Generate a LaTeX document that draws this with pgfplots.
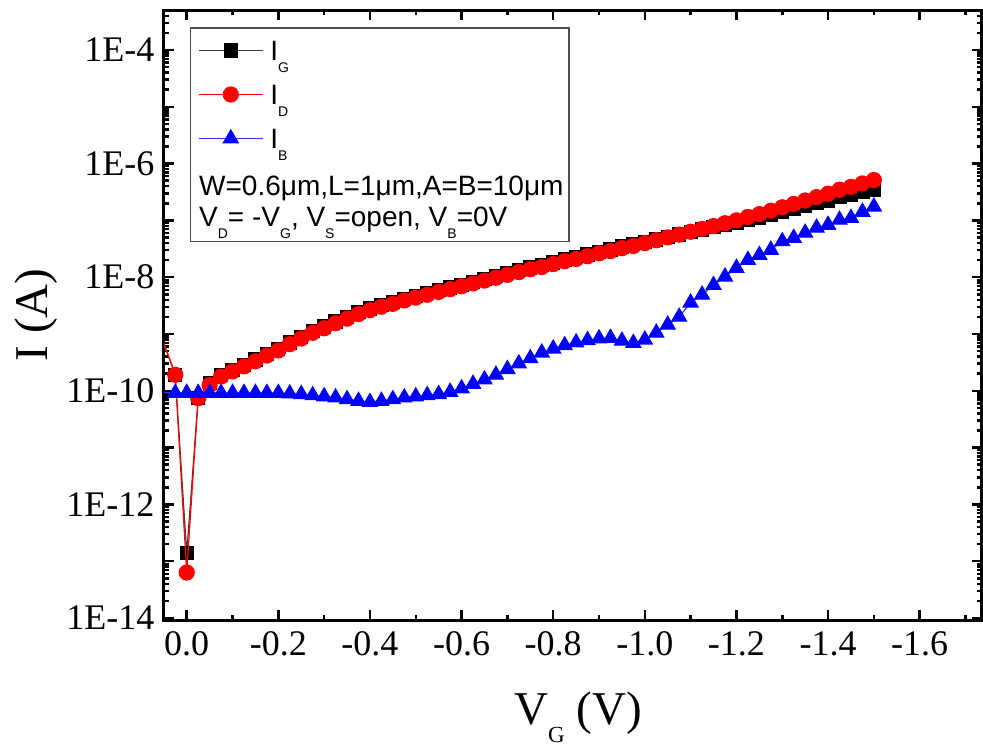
\documentclass[border=0pt]{standalone}
\usepackage{fontspec}
\setmainfont{Liberation Serif}
\newfontfamily\arial{Liberation Sans}
\usepackage{pgfplots}
\pgfplotsset{compat=1.18}
\newcommand{\lsub}[1]{\raisebox{-0.43em}{\fontsize{14}{14}\selectfont #1}}
\begin{document}
\begin{tikzpicture}
\begin{axis}[
  scale only axis, width=818pt, height=610pt,
  x dir=reverse, xmin=-1.736, xmax=0.0496,
  ymode=log, ymin=9.2e-15, ymax=5.06e-4,
  axis line style={line width=3pt},
  tick align=inside,
  major tick length=10pt, minor tick length=5pt,
  every tick/.style={line width=2.5pt, black},
  /pgf/number format/assume math mode=true,
  tick label style={font=\fontsize{36}{40}\selectfont},
  xticklabel style={yshift=-8pt},
  yticklabel style={xshift=-6pt},
  xtick={0,-0.2,-0.4,-0.6,-0.8,-1.0,-1.2,-1.4,-1.6},
  xticklabels={0.0,-0.2,-0.4,-0.6,-0.8,-1.0,-1.2,-1.4,-1.6},
  minor xtick={-0.1,-0.3,-0.5,-0.7,-0.9,-1.1,-1.3,-1.5,-1.7},
  ytick={1e-14,1e-13,1e-12,1e-11,1e-10,1e-9,1e-8,1e-7,1e-6,1e-5,1e-4},
  yticklabels={1E-14,{},1E-12,{},1E-10,{},1E-8,{},1E-6,{},1E-4},
  minor ytick={2e-14,3e-14,4e-14,5e-14,6e-14,7e-14,8e-14,9e-14,
    2e-13,3e-13,4e-13,5e-13,6e-13,7e-13,8e-13,9e-13,
    2e-12,3e-12,4e-12,5e-12,6e-12,7e-12,8e-12,9e-12,
    2e-11,3e-11,4e-11,5e-11,6e-11,7e-11,8e-11,9e-11,
    2e-10,3e-10,4e-10,5e-10,6e-10,7e-10,8e-10,9e-10,
    2e-9,3e-9,4e-9,5e-9,6e-9,7e-9,8e-9,9e-9,
    2e-8,3e-8,4e-8,5e-8,6e-8,7e-8,8e-8,9e-8,
    2e-7,3e-7,4e-7,5e-7,6e-7,7e-7,8e-7,9e-7,
    2e-6,3e-6,4e-6,5e-6,6e-6,7e-6,8e-6,9e-6,
    2e-5,3e-5,4e-5,5e-5,6e-5,7e-5,8e-5,9e-5,
    2e-4,3e-4,4e-4},
  xlabel={\fontsize{47}{52}\selectfont V\raisebox{-0.38em}{\fontsize{23}{23}\selectfont G} (V)},
  ylabel={\fontsize{47}{52}\selectfont I (A)},
  every axis x label/.style={at={(axis description cs:0.506,-0.172)},anchor=base},
  every axis y label/.style={at={(axis description cs:-0.1565,0.5)},rotate=90,anchor=center},
  clip marker paths=true,
  legend image code/.code={\draw[mark repeat=2,mark phase=2,#1] plot coordinates {(0pt,0pt) (32pt,0pt) (64pt,0pt)};},
  legend style={at={(axis description cs:0.0416,0.9536)}, anchor=north west,
    draw=none, fill=none, inner sep=0pt, row sep=20pt, column sep=7pt,
    font=\arial\fontsize{28}{30}\selectfont,
    nodes={inner sep=0pt, text height=22pt, text depth=2pt}},
  legend cell align=left,
]
\addplot[black!75, line width=1.2pt, mark=square*, mark size=6.5pt, mark options={solid, fill=black, draw=black}] coordinates {
(0.05,6.92e-10)(0.025,1.91e-10)(0,1.38e-13)(-0.025,7.41e-11)(-0.05,1.35e-10)(-0.075,1.90e-10)(-0.1,2.34e-10)(-0.125,2.88e-10)(-0.15,3.54e-10)(-0.175,4.46e-10)(-0.2,5.49e-10)(-0.225,7.07e-10)(-0.25,8.90e-10)(-0.275,1.12e-9)(-0.3,1.35e-9)(-0.325,1.66e-9)(-0.35,1.99e-9)(-0.375,2.40e-9)(-0.4,2.81e-9)(-0.425,3.23e-9)(-0.45,3.63e-9)(-0.475,4.16e-9)(-0.5,4.68e-9)(-0.525,5.24e-9)(-0.55,5.89e-9)(-0.575,6.60e-9)(-0.6,7.40e-9)(-0.625,8.30e-9)(-0.65,9.32e-9)(-0.675,1.05e-8)(-0.7,1.18e-8)(-0.725,1.32e-8)(-0.75,1.48e-8)(-0.775,1.62e-8)(-0.8,1.82e-8)(-0.825,2.04e-8)(-0.85,2.24e-8)(-0.875,2.50e-8)(-0.9,2.81e-8)(-0.925,3.08e-8)(-0.95,3.47e-8)(-0.975,3.80e-8)(-1.0,4.18e-8)(-1.025,4.60e-8)(-1.05,5.06e-8)(-1.075,5.62e-8)(-1.1,6.31e-8)(-1.125,6.92e-8)(-1.15,7.59e-8)(-1.175,8.32e-8)(-1.2,9.12e-8)(-1.225,1.02e-7)(-1.25,1.12e-7)(-1.275,1.26e-7)(-1.3,1.41e-7)(-1.325,1.58e-7)(-1.35,1.78e-7)(-1.375,2.00e-7)(-1.4,2.24e-7)(-1.425,2.57e-7)(-1.45,2.82e-7)(-1.475,3.16e-7)(-1.5,3.47e-7)};
\addlegendentry{I\lsub{G}}
\addplot[red, line width=1.2pt, mark=*, mark size=7.5pt, mark options={solid, fill=red, draw=red}] coordinates {
(0.05,6.92e-10)(0.025,1.91e-10)(0,6.31e-14)(-0.025,7.41e-11)(-0.05,1.26e-10)(-0.075,1.78e-10)(-0.1,2.19e-10)(-0.125,2.69e-10)(-0.15,3.31e-10)(-0.175,4.17e-10)(-0.2,5.13e-10)(-0.225,6.61e-10)(-0.25,8.32e-10)(-0.275,1.05e-9)(-0.3,1.26e-9)(-0.325,1.55e-9)(-0.35,1.86e-9)(-0.375,2.24e-9)(-0.4,2.63e-9)(-0.425,3.02e-9)(-0.45,3.39e-9)(-0.475,3.89e-9)(-0.5,4.37e-9)(-0.525,4.90e-9)(-0.55,5.50e-9)(-0.575,6.17e-9)(-0.6,6.92e-9)(-0.625,7.76e-9)(-0.65,8.71e-9)(-0.675,9.77e-9)(-0.7,1.10e-8)(-0.725,1.23e-8)(-0.75,1.38e-8)(-0.775,1.51e-8)(-0.8,1.70e-8)(-0.825,1.91e-8)(-0.85,2.09e-8)(-0.875,2.34e-8)(-0.9,2.63e-8)(-0.925,2.88e-8)(-0.95,3.24e-8)(-0.975,3.55e-8)(-1.0,3.98e-8)(-1.025,4.47e-8)(-1.05,5.01e-8)(-1.075,5.62e-8)(-1.1,6.31e-8)(-1.125,7.08e-8)(-1.15,7.94e-8)(-1.175,8.91e-8)(-1.2,1.00e-7)(-1.225,1.15e-7)(-1.25,1.29e-7)(-1.275,1.48e-7)(-1.3,1.70e-7)(-1.325,1.95e-7)(-1.35,2.24e-7)(-1.375,2.57e-7)(-1.4,2.95e-7)(-1.425,3.47e-7)(-1.45,3.89e-7)(-1.475,4.47e-7)(-1.5,5.13e-7)};
\addlegendentry{I\lsub{D}}
\addplot[blue!80!white, line width=1.2pt, mark=triangle*, mark size=8.5pt, mark options={solid, fill=blue, draw=blue}] coordinates {
(0.05,9.33e-11)(0.025,9.12e-11)(0,9.12e-11)(-0.025,9.12e-11)(-0.05,9.12e-11)(-0.075,9.12e-11)(-0.1,9.12e-11)(-0.125,9.12e-11)(-0.15,9.12e-11)(-0.175,9.12e-11)(-0.2,9.12e-11)(-0.225,8.91e-11)(-0.25,8.71e-11)(-0.275,8.32e-11)(-0.3,7.94e-11)(-0.325,7.59e-11)(-0.35,7.08e-11)(-0.375,6.61e-11)(-0.4,6.31e-11)(-0.425,6.61e-11)(-0.45,7.08e-11)(-0.475,7.59e-11)(-0.5,7.94e-11)(-0.525,8.32e-11)(-0.55,8.71e-11)(-0.575,9.55e-11)(-0.6,1.10e-10)(-0.625,1.32e-10)(-0.65,1.58e-10)(-0.675,1.91e-10)(-0.7,2.40e-10)(-0.725,3.02e-10)(-0.75,3.72e-10)(-0.775,4.68e-10)(-0.8,5.50e-10)(-0.825,6.31e-10)(-0.85,7.08e-10)(-0.875,7.76e-10)(-0.9,8.32e-10)(-0.925,8.51e-10)(-0.95,7.59e-10)(-0.975,6.92e-10)(-1.0,7.94e-10)(-1.025,1.05e-9)(-1.05,1.45e-9)(-1.075,2.00e-9)(-1.1,3.55e-9)(-1.125,4.90e-9)(-1.15,7.24e-9)(-1.175,1.02e-8)(-1.2,1.45e-8)(-1.225,2.00e-8)(-1.25,2.45e-8)(-1.275,3.02e-8)(-1.3,4.27e-8)(-1.325,4.90e-8)(-1.35,6.03e-8)(-1.375,7.41e-8)(-1.4,8.32e-8)(-1.425,1.02e-7)(-1.45,1.10e-7)(-1.475,1.41e-7)(-1.5,1.74e-7)};
\addlegendentry{I\lsub{B}}
\draw[line width=1.3pt, black!70] (axis description cs:0.0326,0.9705) rectangle (axis description cs:0.4951,0.6202);
\node[anchor=base west, inner sep=0pt, font=\arial\fontsize{28}{30}\selectfont] at (axis description cs:0.0428,0.6951) {W=0.6μm,L=1μm,A=B=10μm};
\node[anchor=base west, inner sep=0pt, font=\arial\fontsize{28}{30}\selectfont] at (axis description cs:0.0428,0.6448) {V\lsub{D}= -V\lsub{G}, V\lsub{S}=open, V\lsub{B}=0V};
\end{axis}
\pgfresetboundingbox
\path[use as bounding box] (current axis.south west) ++(-164pt,-127pt) rectangle ++(983pt,747pt);
\end{tikzpicture}
\end{document}
